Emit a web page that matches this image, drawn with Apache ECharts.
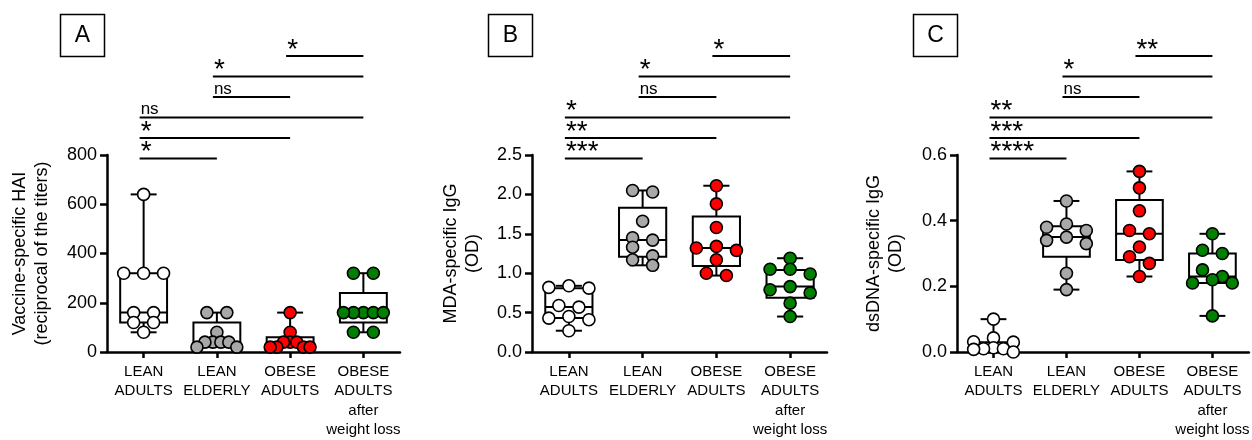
<!DOCTYPE html>
<html>
<head>
<meta charset="utf-8">
<script src="https://cdn.jsdelivr.net/npm/echarts@6/dist/echarts.min.js"></script>
<style>
	html, body { margin: 0; padding: 0; background: #fff; }
	#chart { width: 1252px; height: 440px; }
</style>
</head>
<body>
<div id="chart"></div>
<script>
// groups on the x axis
const categories = ['LEAN\nADULTS', 'LEAN\nELDERLY', 'OBESE\nADULTS', 'OBESE\nADULTS\nafter\nweight loss'];

// panel A: vaccine-specific HAI (one list of subjects per group)
const haiValues = [
	[640, 320, 320, 320, 160, 160, 120, 120, 80],
	[160, 160, 80, 40, 40, 40, 40, 20, 20],
	[160, 80, 40, 40, 40, 20, 20, 20, 20],
	[320, 320, 160, 160, 160, 160, 160, 80, 80],
];
// [min, Q1, median, Q3, max]
const haiBoxes = [
	[80, 120, 160, 320, 640],
	[20, 30, 40, 120, 160],
	[20, 20, 40, 60, 160],
	[80, 120, 160, 240, 320],
];
const haiTicks = [0, 200, 400, 600, 800];

// panel B: MDA-specific IgG (OD)
const mdaValues = [
	[0.84, 0.82, 0.81, 0.59, 0.57, 0.45, 0.43, 0.41, 0.27],
	[2.05, 2.03, 1.66, 1.45, 1.42, 1.33, 1.22, 1.17, 1.1],
	[2.11, 1.88, 1.58, 1.34, 1.32, 1.29, 1.17, 1.0, 0.97],
	[1.19, 1.05, 1.05, 0.99, 0.83, 0.79, 0.75, 0.62, 0.45],
];
const mdaBoxes = [
	[0.27, 0.43, 0.57, 0.81, 0.84],
	[1.1, 1.21, 1.42, 1.83, 2.05],
	[0.97, 1.09, 1.32, 1.72, 2.11],
	[0.45, 0.69, 0.83, 1.04, 1.19],
];
const mdaTicks = [0, 0.5, 1.0, 1.5, 2.0, 2.5];

// panel C: dsDNA-specific IgG (OD)
const dsdnaValues = [
	[0.1, 0.043, 0.031, 0.03, 0.013, 0.01, 0.01, 0.008, 0.0],
	[0.46, 0.39, 0.38, 0.37, 0.35, 0.34, 0.33, 0.24, 0.19],
	[0.55, 0.5, 0.43, 0.37, 0.36, 0.32, 0.29, 0.27, 0.23],
	[0.36, 0.31, 0.3, 0.25, 0.23, 0.22, 0.21, 0.21, 0.11],
];
const dsdnaBoxes = [
	[0.0, 0.009, 0.013, 0.03, 0.1],
	[0.19, 0.29, 0.35, 0.383, 0.46],
	[0.23, 0.28, 0.36, 0.463, 0.55],
	[0.11, 0.21, 0.23, 0.3, 0.36],
];
const dsdnaTicks = [0, 0.2, 0.4, 0.6];

// significance brackets: [label, from group, to group], bottom row first
const haiSig = [['*', 0, 1], ['*', 0, 2], ['ns', 0, 3], ['ns', 1, 2], ['*', 1, 3], ['*', 2, 3]];
const mdaSig = [['***', 0, 1], ['**', 0, 2], ['*', 0, 3], ['ns', 1, 2], ['*', 1, 3], ['*', 2, 3]];
const dsdnaSig = [['****', 0, 1], ['***', 0, 2], ['**', 0, 3], ['ns', 1, 2], ['*', 1, 3], ['**', 2, 3]];

const FONT = "'Liberation Sans', Arial, Helvetica, sans-serif";
const groupFill = ['#ffffff', '#a8a8a8', '#ff0000', '#007f00'];

// 把相近的点排成一行，从中间向两边摆放
function swarmOffsets(ys, tol, spread) {
	const order = ys.map((y, k) => k).sort((a, b) => ys[a] - ys[b]);
	const offs = new Array(ys.length).fill(0);
	let row = [];
	const flush = () => {
		const n = row.length;
		const slots = [];
		for (let s = 0; s < n; s++) {
			slots.push(n === 1 ? 0 : n === 2 ? (s ? 1 : -1) * spread / 2 : -spread + (2 * spread * s) / (n - 1));
		}
		// center-out order
		const idx = slots.map((v, s) => s).sort((a, b) => Math.abs(slots[a]) - Math.abs(slots[b]) || a - b);
		row.forEach((k, m) => (offs[k] = slots[idx[m]]));
		row = [];
	};
	order.forEach((k) => {
		if (row.length && ys[k] - ys[row[0]] > tol) flush();
		row.push(k);
	});
	flush();
	return offs;
}

function boxRenderer(params, api) {
	const i = api.value(0);
	const x = api.coord([i, 0])[0];
	const band = api.size([1, 0])[0];
	const half = band * 0.32;
	const cap = band * 0.177;
	const p = [1, 2, 3, 4, 5].map((d) => api.coord([i, api.value(d)])[1]);
	const ls = { stroke: '#000', lineWidth: 2 };
	return {
		type: 'group',
		children: [
			{ type: 'line', shape: { x1: x, y1: p[3], x2: x, y2: p[4] }, style: ls },
			{ type: 'line', shape: { x1: x, y1: p[1], x2: x, y2: p[0] }, style: ls },
			{ type: 'line', shape: { x1: x - cap, y1: p[4], x2: x + cap, y2: p[4] }, style: ls },
			{ type: 'line', shape: { x1: x - cap, y1: p[0], x2: x + cap, y2: p[0] }, style: ls },
			{ type: 'rect', shape: { x: x - half, y: p[3], width: 2 * half, height: p[1] - p[3] }, style: { fill: 'none', stroke: '#000', lineWidth: 2 } },
			{ type: 'line', shape: { x1: x - half, y1: p[2], x2: x + half, y2: p[2] }, style: ls },
		],
	};
}

function pointRenderer(values) {
	return function (params, api) {
		const g = api.value(0);
		const k = api.value(2);
		const ys = values[g].map((v) => api.coord([g, v])[1]);
		const band = api.size([1, 0])[0];
		const offs = swarmOffsets(ys, 9, band * 0.272);
		const c = api.coord([g, api.value(1)]);
		return {
			type: 'circle',
			shape: { cx: c[0] + offs[k], cy: c[1], r: 6 },
			style: { fill: groupFill[g], stroke: '#000', lineWidth: 1.6 },
		};
	};
}

function sigRenderer(sig, yMax) {
	return function (params, api) {
		const level = params.dataIndex;
		const label = sig[level][0];
		const x1 = api.coord([api.value(0), yMax])[0] - 4;
		const x2 = api.coord([api.value(1), yMax])[0];
		const top = api.coord([0, yMax])[1];
		const y = top + 3.5 - level * 20.5;
		const star = label !== 'ns';
		return {
			type: 'group',
			children: [
				{ type: 'line', shape: { x1: x1, y1: y, x2: x2, y2: y }, style: { stroke: '#000', lineWidth: 2.2 } },
				{
					type: 'text',
					x: x1 + 1,
					y: star ? y + 8 : y + 0.5,
					style: { text: label, fill: '#000', font: (star ? '28px ' : '17px ') + FONT, align: 'left', verticalAlign: 'bottom' },
				},
			],
		};
	};
}

const panels = [
	{ values: haiValues, boxes: haiBoxes, ticks: haiTicks, sig: haiSig, name: 'Vaccine-specific HAI\n(reciprocal of the titers)', gap: 54, left: 107, width: 293, digits: 0 },
	{ values: mdaValues, boxes: mdaBoxes, ticks: mdaTicks, sig: mdaSig, name: 'MDA-specific IgG\n(OD)', gap: 48, left: 532, width: 295, digits: 1 },
	{ values: dsdnaValues, boxes: dsdnaBoxes, ticks: dsdnaTicks, sig: dsdnaSig, name: 'dsDNA-specific IgG\n(OD)', gap: 50, left: 957, width: 296, digits: 1 },
];

const chart = echarts.init(document.getElementById('chart'));
const axisStyle = { color: '#000', width: 2.5 };

const option = {
	animation: false,
	backgroundColor: '#fff',
	textStyle: { fontFamily: FONT },
	grid: panels.map((p) => ({ left: p.left, top: 155, width: p.width, height: 197 })),
	xAxis: panels.map((p, i) => ({
		type: 'category',
		gridIndex: i,
		data: categories,
		boundaryGap: true,
		axisLine: { show: true, lineStyle: axisStyle },
		axisTick: { show: true, alignWithLabel: true, length: 6, lineStyle: axisStyle },
		axisLabel: { interval: 0, color: '#000', fontSize: 15, lineHeight: 19.5, margin: 10, fontFamily: FONT },
		splitLine: { show: false },
	})),
	yAxis: panels.map((p, i) => ({
		type: 'value',
		gridIndex: i,
		min: p.ticks[0],
		max: p.ticks[p.ticks.length - 1],
		interval: p.ticks[1] - p.ticks[0],
		axisLine: { show: true, lineStyle: axisStyle },
		axisTick: { show: true, length: 7, lineStyle: axisStyle },
		axisLabel: { color: '#000', fontSize: 18, margin: 10, fontFamily: FONT, formatter: (v) => v.toFixed(p.digits) },
		splitLine: { show: false },
		name: p.name,
		nameLocation: 'middle',
		nameGap: p.gap,
		nameTextStyle: { color: '#000', fontSize: 18, lineHeight: 22, fontFamily: FONT },
	})),
	series: [],
	graphic: [],
};

panels.forEach((p, i) => {
	option.series.push({
		type: 'custom',
		xAxisIndex: i,
		yAxisIndex: i,
		z: 2,
		renderItem: boxRenderer,
		encode: { x: 0, y: [1, 2, 3, 4, 5] },
		data: p.boxes.map((b, g) => [g].concat(b)),
	});
	option.series.push({
		type: 'custom',
		xAxisIndex: i,
		yAxisIndex: i,
		z: 3,
		renderItem: pointRenderer(p.values),
		encode: { x: 0, y: 1 },
		data: p.values.flatMap((arr, g) => arr.map((v, k) => [g, v, k])),
	});
	option.series.push({
		type: 'custom',
		xAxisIndex: i,
		yAxisIndex: i,
		z: 3,
		clip: false,
		renderItem: sigRenderer(p.sig, p.ticks[p.ticks.length - 1]),
		encode: { x: [0, 1] },
		data: p.sig.map((s) => [s[1], s[2]]),
	});
});

// panel letters
[['A', 60], ['B', 488], ['C', 913]].forEach(([t, x]) => {
	option.graphic.push({
		type: 'group',
		children: [
			{ type: 'rect', shape: { x: x + 0.5, y: 14.5, width: 44, height: 42 }, style: { fill: '#fff', stroke: '#000', lineWidth: 1.5 } },
			{ type: 'text', x: x + 22.5, y: 36, style: { text: t, fill: '#000', font: '23px ' + FONT, align: 'center', verticalAlign: 'middle' } },
		],
	});
});

chart.setOption(option);
</script>
</body>
</html>
